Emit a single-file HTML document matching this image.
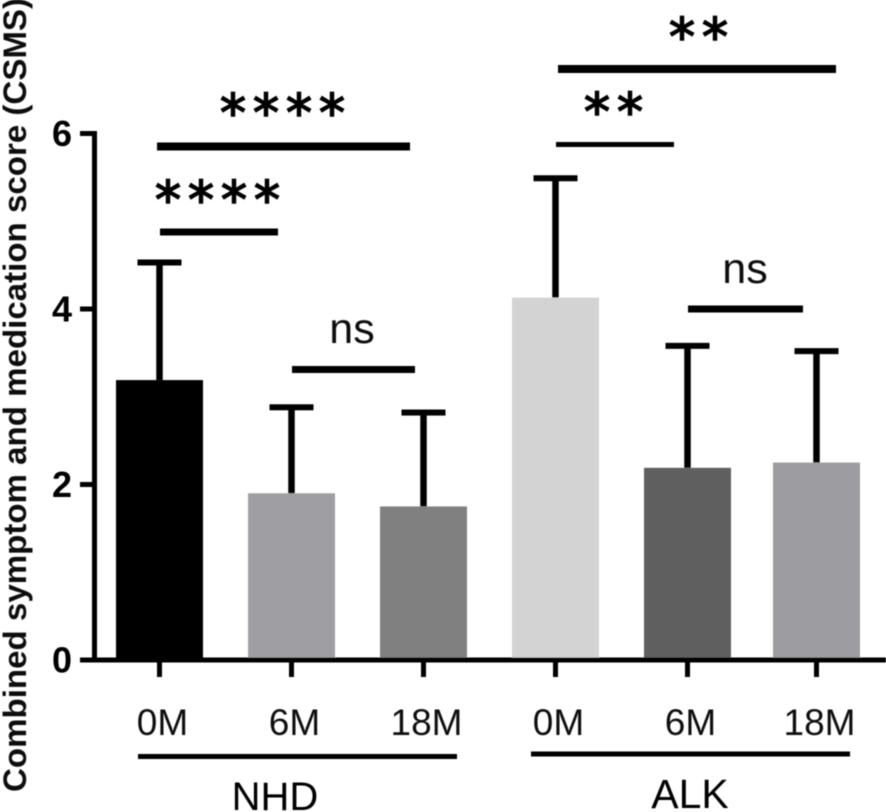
<!DOCTYPE html>
<html lang="en">
<head>
<meta charset="utf-8">
<title>Combined symptom and medication score</title>
<style>
html,body{margin:0;padding:0;background:#fff;width:886px;height:812px;overflow:hidden}
svg{display:block;font-family:"Liberation Sans",sans-serif}
.star{font-family:"DejaVu Sans",sans-serif;font-size:52px;letter-spacing:7px;fill:#000;stroke:#000;stroke-width:1.6px;text-anchor:middle}
.ns{font-size:43px;fill:#111;text-anchor:middle}
</style>
</head>
<body>
<svg id="chart" width="886" height="812" viewBox="0 0 886 812" xmlns="http://www.w3.org/2000/svg">
  <defs><filter id="soft" x="-5%" y="-5%" width="110%" height="110%"><feGaussianBlur stdDeviation="0.55"/></filter></defs>
  <g id="root" filter="url(#soft)">
    <text transform="translate(26,395) rotate(-90)" text-anchor="middle" font-size="32" font-weight="bold" fill="#111" textLength="794" lengthAdjust="spacingAndGlyphs">Combined symptom and medication score (CSMS)</text>

    <g>
      <rect x="157" y="142.5" width="253" height="8" fill="#000"/>
      <rect x="160" y="228.5" width="118" height="7" fill="#000"/>
      <rect x="292" y="366" width="123" height="7" fill="#000"/>
      <rect x="558" y="65" width="278" height="8" fill="#000"/>
      <rect x="556" y="142" width="118" height="5" fill="#000"/>
      <rect x="688" y="305.5" width="115" height="7" fill="#000"/>
      <text class="star" x="286" y="131">****</text>
      <text class="star" x="221" y="218">****</text>
      <text class="star" x="702" y="55">**</text>
      <text class="star" x="617" y="130">**</text>
      <text class="ns" x="352" y="343">ns</text>
      <text class="ns" x="745" y="283">ns</text>
    </g>

    <g>
      <rect x="138" y="754" width="319" height="5" fill="#000"/>
      <rect x="531" y="751.5" width="319" height="5" fill="#000"/>
      <text x="275" y="810" font-size="40" text-anchor="middle" fill="#000">NHD</text>
      <text x="690" y="808" font-size="41" text-anchor="middle" fill="#000">ALK</text>
    </g>
  </g>
</svg>
<script>
const categories = ['0M', '6M', '18M', '0M', '6M', '18M'];
const barKeys = ['nhd-0m', 'nhd-6m', 'nhd-18m', 'alk-0m', 'alk-6m', 'alk-18m'];
const means = [3.19, 1.90, 1.75, 4.13, 2.19, 2.25];
const errorTops = [4.53, 2.88, 2.82, 5.49, 3.58, 3.52];
const barColors = ['#000000', '#9f9ea3', '#808080', '#d3d3d3', '#5f5f5f', '#9d9ca1'];
const yTicks = [0, 2, 4, 6];

const NS = 'http://www.w3.org/2000/svg';
const root = document.getElementById('root');
function yScale(v) { return 660 - v * 87.75; }
function xScale(i) { return Math.min(159.5 + i * 132, 816.5); }
function mk(tag, attrs, parent) {
  const el = document.createElementNS(NS, tag);
  for (const k in attrs) el.setAttribute(k, attrs[k]);
  (parent || root).appendChild(el);
  return el;
}

const BAR_W = 87;
const CAP_W = 44;

means.forEach(function (m, i) {
  const cx = xScale(i);
  const top = yScale(m);
  const errTop = yScale(errorTops[i]);
  const bar = mk('rect', { x: cx - BAR_W / 2, y: top, width: BAR_W, height: yScale(0) - top, fill: barColors[i] });
  
  
  const stem = mk('rect', { x: cx - 3.25, y: errTop, width: 6.5, height: top - errTop, fill: '#000' });
  
  
  const cap = mk('rect', { x: cx - CAP_W / 2, y: errTop - 3, width: CAP_W, height: 6, fill: '#000' });
  
  
});

const yAxisLine = mk('rect', { x: 92, y: yScale(6) - 2.5, width: 5, height: yScale(0) - yScale(6) + 5, fill: '#000' });


const xAxisLine = mk('rect', { x: 80, y: yScale(0) - 2.5, width: 806, height: 5, fill: '#000' });



yTicks.forEach(function (t) {
  const tick = mk('rect', { x: 80, y: yScale(t) - 2.5, width: 14, height: 5, fill: '#000' });
  
  
  const label = mk('text', { x: 72, y: yScale(t) + 12.5, 'font-size': 36, 'font-weight': 'bold', 'text-anchor': 'end', fill: '#000' });
  label.textContent = String(t);
  
  
});

categories.forEach(function (c, i) {
  const cx = xScale(i);
  const tick = mk('rect', { x: cx - 2.5, y: 662, width: 5, height: 15, fill: '#000' });
  
  
  const label = mk('text', { x: cx + 3, y: 735, 'font-size': 37, 'text-anchor': 'middle', fill: '#111' });
  label.textContent = c;
  
  
});
</script>
</body>
</html>
